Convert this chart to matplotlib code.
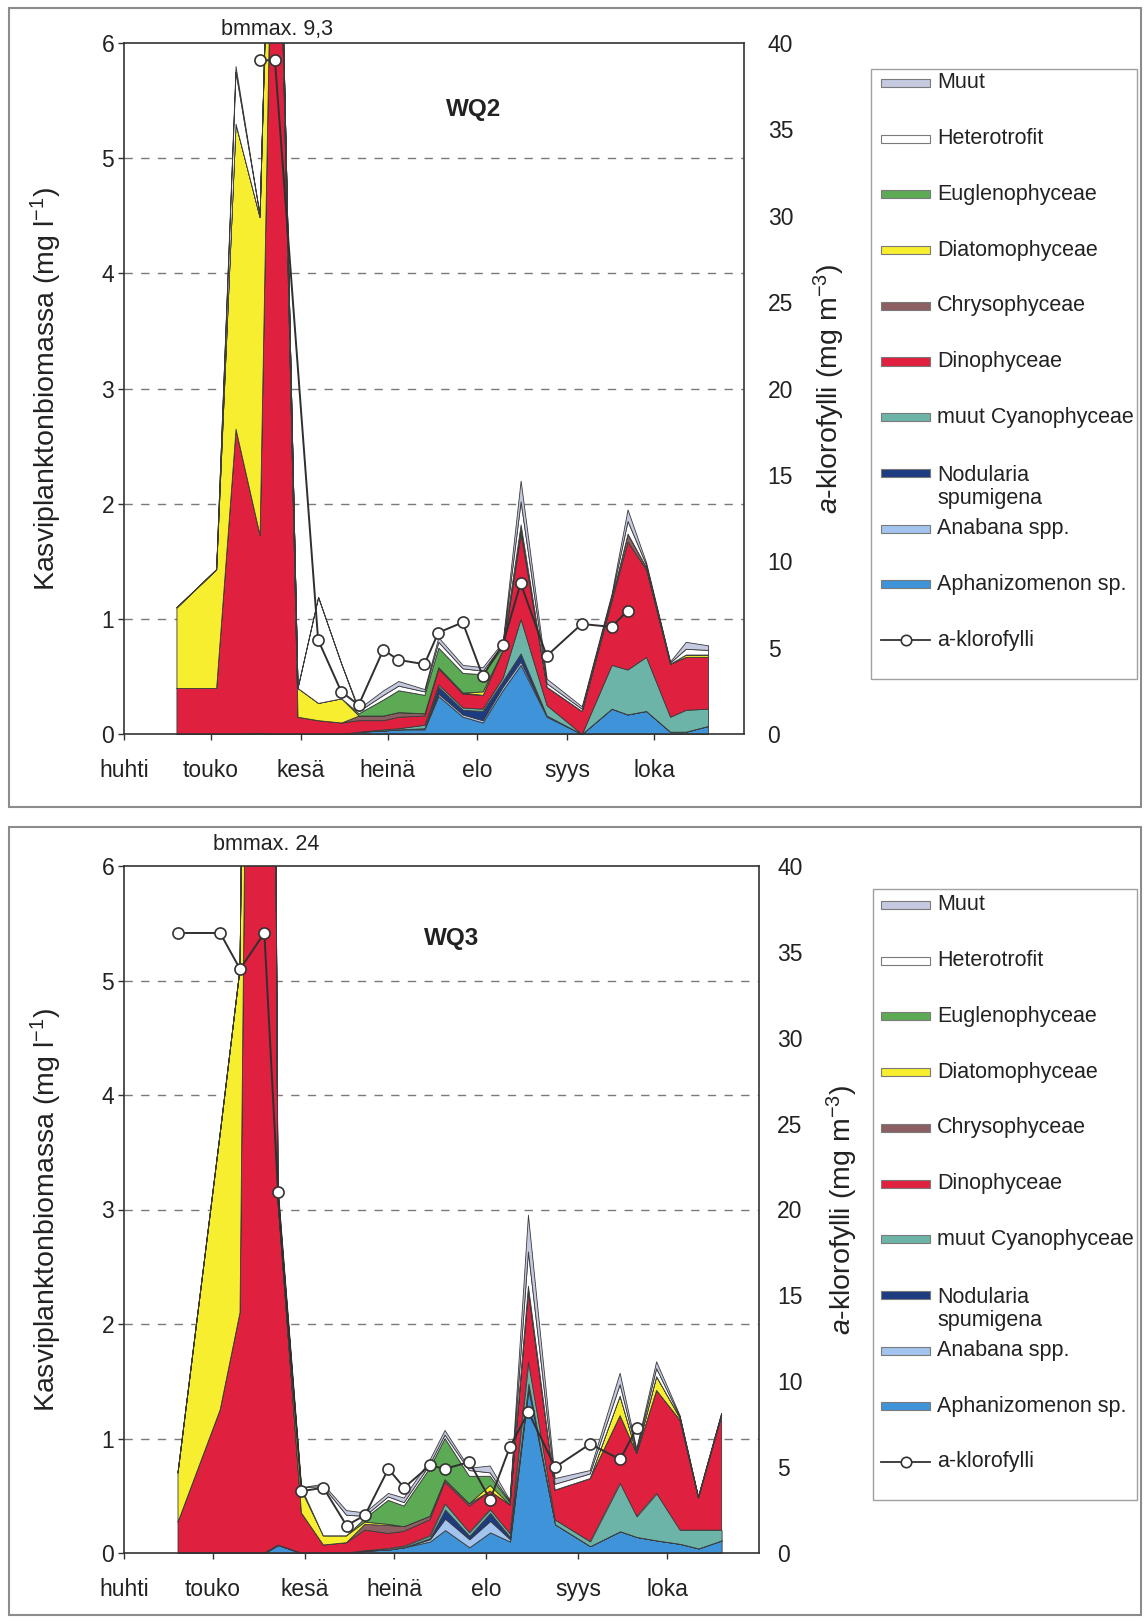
import matplotlib.pyplot as plt
from matplotlib.patches import Rectangle
from matplotlib.lines import Line2D
import matplotlib.transforms as mtransforms

plt.rcParams['font.family'] = ['Liberation Sans', 'DejaVu Sans']
plt.rcParams['mathtext.fontset'] = 'custom'
plt.rcParams['mathtext.rm'] = 'Liberation Sans'
plt.rcParams['mathtext.it'] = 'Liberation Sans:italic'

# --- data (days counted from 1 April) ---
months = ['huhti', 'touko', 'kesä', 'heinä', 'elo', 'syys', 'loka']
month_days = [0, 30, 61, 91, 122, 153, 183]

names = ['Aphanizomenon sp.', 'Anabana spp.', 'Nodularia\nspumigena', 'muut Cyanophyceae',
         'Dinophyceae', 'Chrysophyceae', 'Diatomophyceae', 'Euglenophyceae',
         'Heterotrofit', 'Muut']
colors = ['#3f93d8', '#a3c4ee', '#1d3b80', '#6db4a8', '#e0203f', '#8c5f62',
          '#f7ee2f', '#5daa55', '#ffffff', '#c5cae0']

# WQ2
wq2_days = [18.1, 31.8, 38.5, 46.8, 52.1, 59.9, 67.0, 75.0, 81.0, 89.5, 94.7, 103.7, 108.5,
            116.9, 123.8, 130.7, 136.9, 145.9, 158.0, 168.3, 173.8, 180.2, 188.5, 193.9, 201.6]
wq2_aph = [0, 0, 0, 0.01, 0, 0, 0, 0, 0.02, 0.03, 0.04, 0.04, 0.33, 0.15, 0.10, 0.38, 0.60,
           0.15, 0.00, 0.22, 0.17, 0.20, 0.02, 0.02, 0.07]
wq2_ana = [0, 0, 0, 0, 0, 0, 0, 0, 0, 0, 0, 0.01, 0.02, 0.02, 0.02, 0.03, 0.03, 0.01, 0, 0,
           0, 0, 0, 0, 0]
wq2_nod = [0, 0, 0, 0, 0, 0, 0, 0, 0, 0, 0, 0, 0.06, 0.04, 0.08, 0.05, 0.07, 0, 0, 0, 0, 0,
           0, 0, 0]
wq2_cya = [0, 0, 0, 0, 0, 0, 0, 0, 0, 0.01, 0.01, 0.03, 0.02, 0.02, 0.02, 0.03, 0.30, 0.09,
           0.0, 0.38, 0.39, 0.47, 0.13, 0.19, 0.15]
wq2_dino = [0.40, 0.40, 2.65, 1.72, 9.0, 0.15, 0.12, 0.10, 0.10, 0.08, 0.10, 0.08, 0.14, 0.12,
            0.12, 0.24, 0.74, 0.16, 0.20, 0.56, 1.11, 0.76, 0.46, 0.46, 0.45]
wq2_chry = [0, 0, 0, 0, 0, 0, 0, 0, 0.04, 0.04, 0.04, 0.02, 0.01, 0.01, 0, 0, 0.06, 0, 0,
            0.02, 0.07, 0.02, 0, 0, 0]
wq2_diat = [0.70, 1.03, 2.65, 2.76, 0.25, 0.25, 0.15, 0.21, 0, 0, 0, 0, 0, 0, 0.03, 0, 0, 0,
            0, 0, 0, 0, 0, 0.02, 0.02]
wq2_eugl = [0, 0, 0, 0, 0.03, 0, 0, 0, 0.02, 0.14, 0.19, 0.16, 0.17, 0.17, 0.15, 0.03, 0.02,
            0, 0, 0, 0, 0, 0, 0, 0]
wq2_het = [0, 0, 0.45, 0.02, 0.01, 0, 0.92, 0.30, 0.02, 0.04, 0.04, 0.03, 0.05, 0.04, 0.03,
           0.02, 0.20, 0.03, 0.02, 0.02, 0.11, 0.02, 0.01, 0.05, 0.04]
wq2_muut = [0, 0, 0.05, 0, 0.01, 0, 0, 0, 0.02, 0.04, 0.04, 0.02, 0.04, 0.03, 0.03, 0.02,
            0.18, 0.04, 0.02, 0.02, 0.10, 0.02, 0.01, 0.06, 0.04]
wq2_chl_days = [46.8, 52.1, 67.0, 75.0, 81.0, 89.5, 94.7, 103.7, 108.5, 116.9, 123.8, 130.7,
                136.9, 145.9, 158.0, 168.3, 173.8]
wq2_chl = [39.0, 39.0, 5.45, 2.45, 1.68, 4.87, 4.29, 4.04, 5.87, 6.46, 3.36, 5.16, 8.73, 4.52,
           6.37, 6.2, 7.14]

# WQ3
wq3_days = [18.2, 32.4, 39.1, 47.3, 51.9, 59.8, 67.2, 75.0, 81.2, 89.1, 94.4, 103.1, 108.2,
            116.4, 123.4, 130.1, 136.3, 145.3, 157.1, 167.2, 172.8, 179.5, 187.4, 193.6, 201.4]
wq3_aph = [0, 0, 0, 0, 0.07, 0, 0, 0, 0.02, 0.03, 0.05, 0.10, 0.20, 0.05, 0.18, 0.10, 1.43,
           0.25, 0.06, 0.19, 0.14, 0.11, 0.08, 0.04, 0.11]
wq3_ana = [0, 0, 0, 0, 0, 0, 0, 0, 0, 0, 0, 0.02, 0.10, 0.07, 0.10, 0.02, 0.02, 0, 0, 0, 0,
           0, 0, 0, 0]
wq3_nod = [0, 0, 0, 0, 0, 0, 0, 0, 0, 0, 0, 0.01, 0.08, 0.03, 0.07, 0.02, 0.03, 0, 0, 0, 0,
           0, 0, 0, 0]
wq3_cya = [0, 0, 0, 0, 0, 0, 0, 0, 0, 0.01, 0.01, 0.02, 0.05, 0.03, 0.03, 0.03, 0.19, 0.04,
           0.04, 0.42, 0.18, 0.41, 0.12, 0.16, 0.09]
wq3_dino = [0.27, 1.25, 2.10, 23.4, 3.00, 0.35, 0.07, 0.09, 0.18, 0.13, 0.13, 0.14, 0.19,
            0.23, 0.16, 0.25, 0.61, 0.26, 0.55, 0.59, 0.55, 0.90, 0.96, 0.28, 1.00]
wq3_chry = [0, 0, 0, 0, 0, 0, 0, 0, 0.05, 0.07, 0.04, 0.03, 0.02, 0.02, 0, 0, 0.03, 0, 0, 0,
            0, 0, 0, 0, 0]
wq3_diat = [0.43, 2.41, 3.00, 0.35, 0, 0.20, 0.08, 0.06, 0.02, 0.01, 0, 0, 0, 0, 0.05, 0, 0,
            0, 0, 0.17, 0, 0.12, 0.02, 0, 0]
wq3_eugl = [0, 0, 0, 0.15, 0.08, 0.02, 0, 0, 0.03, 0.21, 0.18, 0.42, 0.36, 0.24, 0.08, 0.02,
            0.02, 0, 0, 0, 0, 0, 0, 0, 0]
wq3_het = [0, 0, 0, 0.05, 0.02, 0, 0.43, 0.18, 0.02, 0.03, 0.03, 0.03, 0.03, 0.05, 0.03, 0.01,
           0.30, 0.05, 0.04, 0.10, 0.02, 0.07, 0.01, 0.01, 0.01]
wq3_muut = [0, 0, 0, 0.05, 0.02, 0, 0.02, 0.04, 0.03, 0.03, 0.04, 0.04, 0.04, 0.02, 0.06,
            0.01, 0.32, 0.05, 0.03, 0.10, 0.02, 0.06, 0.01, 0, 0.01]
wq3_chl_days = [18.2, 32.4, 39.1, 47.3, 51.9, 59.8, 67.2, 75.0, 81.2, 89.1, 94.4, 103.1, 108.2,
                116.4, 123.4, 130.1, 136.3, 145.3, 157.1, 167.2, 172.8]
wq3_chl = [36.1, 36.1, 34.0, 36.1, 21.0, 3.6, 3.8, 1.6, 2.2, 4.9, 3.8, 5.1, 4.9, 5.3, 3.1, 6.2,
           8.2, 5.0, 6.35, 5.45, 7.27]

W, H = 1144, 1621
fig = plt.figure(figsize=(W / 100, H / 100), dpi=100)


def fx(px):
    return px / W


def fy(py):
    return 1 - py / H


def frame(x0, y0, x1, y1, color='#8c8c8c', lw=1.5):
    fig.add_artist(Rectangle((fx(x0), fy(y1)), fx(x1) - fx(x0), fy(y0) - fy(y1),
                             transform=fig.transFigure, fill=False, ec=color, lw=lw))


def legend_box(x0, y0, x1, y1, first_y, step=55.7):
    frame(x0, y0, x1, y1, color='#a0a0a0', lw=1.0)
    order = list(range(len(names)))[::-1]
    for i, k in enumerate(order):
        yc = first_y + i * step
        fig.add_artist(Rectangle((fx(881), fy(yc + 4)), fx(930) - fx(881), fy(yc - 4) - fy(yc + 4),
                                 transform=fig.transFigure, fc=colors[k], ec='#7a7a7a', lw=0.8))
        if '\n' in names[k]:
            fig.text(fx(937), fy(yc - 8), names[k], transform=fig.transFigure, fontsize=15.5,
                     va='top', ha='left', color='#222222', linespacing=1.15)
        else:
            fig.text(fx(937), fy(yc), names[k], transform=fig.transFigure, fontsize=15.5,
                     va='center', ha='left', color='#222222')
    yc = first_y + len(names) * step
    fig.add_artist(Line2D([fx(881), fx(930)], [fy(yc), fy(yc)], transform=fig.transFigure,
                          color='#333333', lw=1.3))
    fig.add_artist(Line2D([fx(905.5)], [fy(yc)], transform=fig.transFigure, marker='o',
                          ms=7.5, mfc='white', mec='#333333', mew=1.2))
    fig.text(fx(937), fy(yc), 'a-klorofylli', fontsize=15.5, va='center', ha='left',
             color='#222222')


def panel(box, days, layers, chl_days, chl, title, title_xy, bm_text, bm_off, rpad,
          llab_x, rlab_x):
    left, top, right, bottom = box
    ax = fig.add_axes([fx(left), fy(bottom), fx(right) - fx(left), fy(top) - fy(bottom)])
    ax.stackplot(days, *layers, colors=colors, edgecolor='#3a3a3a', linewidth=0.6)
    ax.set_xlim(0, 214)
    ax.set_ylim(0, 6)
    ax.set_yticks(range(7))
    ax.set_xticks(month_days)
    ax.set_xticklabels(months)
    for g in range(1, 6):
        ax.axhline(g, color='#7a7a7a', lw=1.0, dashes=(6, 6), zorder=0.5)
    ax.tick_params(axis='both', direction='out', length=4, width=1, labelsize=16.5,
                   colors='#333333', labelcolor='#222222')
    ax.tick_params(axis='x', pad=14)
    ax.tick_params(axis='y', pad=3)
    for s in ax.spines.values():
        s.set_color('#333333')
        s.set_linewidth(1.2)
    ax.set_ylabel('Kasviplanktonbiomassa (mg l$^{-1}$)', fontsize=20.5, color='#222222')
    ax.yaxis.set_label_coords(llab_x, 0.5)

    # biomass maximum written above the clipped peak
    totals = [sum(v) for v in zip(*layers)]
    peak_day = days[totals.index(max(totals))]
    trans = mtransforms.blended_transform_factory(ax.transData, ax.transAxes)
    ax.text(peak_day + 0.6, 1.0 + bm_off / (bottom - top), bm_text, transform=trans,
            ha='center', va='center', fontsize=15.5, color='#222222')
    ax.text(title_xy[0], title_xy[1], title, fontsize=17.5, fontweight='bold', ha='center',
            va='center', color='#222222')

    tw = ax.twinx()
    tw.set_ylim(0, 40)
    tw.set_yticks(range(0, 41, 5))
    tw.tick_params(axis='y', length=0, pad=rpad, labelsize=16.5, labelcolor='#222222')
    for s in tw.spines.values():
        s.set_visible(False)
    tw.plot(chl_days, chl, color='#2f2f2f', lw=1.4, marker='o', ms=8, mfc='white',
            mec='#333333', mew=1.2)
    tw.set_ylabel('$a$-klorofylli (mg m$^{-3}$)', fontsize=20.5, color='#222222')
    tw.yaxis.set_label_coords(rlab_x, 0.5)
    return ax


wq2_layers = [wq2_aph, wq2_ana, wq2_nod, wq2_cya, wq2_dino, wq2_chry, wq2_diat, wq2_eugl,
              wq2_het, wq2_muut]
wq3_layers = [wq3_aph, wq3_ana, wq3_nod, wq3_cya, wq3_dino, wq3_chry, wq3_diat, wq3_eugl,
              wq3_het, wq3_muut]

frame(9, 8, 1141, 807)
frame(9, 827, 1141, 1615)

panel((124, 43, 744, 734), wq2_days, wq2_layers, wq2_chl_days, wq2_chl, 'WQ2', (120.5, 5.42),
      'bmmax. 9,3', 13, 17, -0.097, 1.11)
panel((124, 866, 759, 1553), wq3_days, wq3_layers, wq3_chl_days, wq3_chl, 'WQ3', (110.5, 5.37),
      'bmmax. 24', 21, 13, -0.095, 1.104)

legend_box(871, 69, 1137, 679, 83)
legend_box(873, 889, 1137, 1500, 905)

fig.savefig('out.png', dpi=100)
